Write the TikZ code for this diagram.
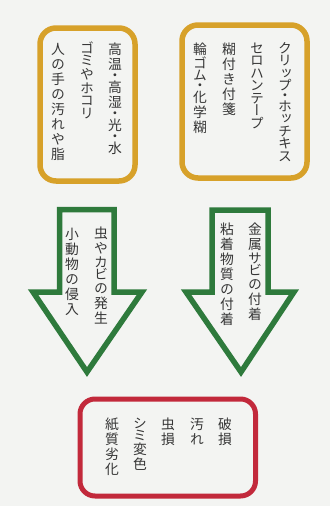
\documentclass[tikz,border=0pt]{standalone}
\usepackage{fontspec}
\newfontfamily\jp[RawFeature=+vert]{Noto Sans CJK JP}
\definecolor{bg}{HTML}{F3F4F2}
\definecolor{ybox}{HTML}{D7A12A}
\definecolor{garrow}{HTML}{2E7A3C}
\definecolor{rbox}{HTML}{C2293B}
\definecolor{ink}{HTML}{363636}
\newcommand\cjkslot[2]{\hbox to 15pt{\hss\vbox to #1{\vss\hbox{\vrule height .88em depth .12em width 0pt\relax #2}\vss}\hss}}
\ExplSyntaxOn
\tl_const:Nn \c_kata_tl {アイウエオカキクケコサシスセソタチツテトナニヌネノハヒフヘホマミムメモヤユヨラリルレロワヲンガギグゲゴザジズゼゾダヂヅデドバビブベボパピプペポァィゥェォッャュョー}
\NewDocumentCommand \tate { m }
 {
  \vbox:n
   {
    \offinterlineskip
    \tl_map_inline:nn {#1}
     {
      \str_if_eq:nnTF {##1} {・}
       { \cjkslot{8pt}{##1} }
       {
        \tl_if_in:NnTF \c_kata_tl {##1}
         { \cjkslot{12.5pt}{##1} }
         { \cjkslot{15pt}{##1} }
       }
     }
   }
 }
\ExplSyntaxOff
\begin{document}
\begin{tikzpicture}[x=1pt,y=-1pt,
  col/.style={anchor=north,inner sep=0pt,text=ink,font=\jp\fontsize{13.8pt}{15pt}\selectfont},
  ybox/.style={draw=ybox,line width=5.5pt,rounded corners=16pt},
  rbox/.style={draw=rbox,line width=5pt,rounded corners=15pt},
  garrow/.style={draw=garrow,line width=5.5pt,line join=miter,fill=bg}]
\fill[bg] (0,0) rectangle (330,506);
\useasboundingbox (0,0) rectangle (330,506);
% top boxes
\draw[ybox] (40,28) rectangle (135,181);
\draw[ybox] (182,25) rectangle (307,178);
\node[col] (a1) at (115,41.5) {\tate{高温・高湿・光・水}};
\node[col] (a2) at (87,41.5) {\tate{ゴミやホコリ}};
\node[col] (a3) at (58,41.5) {\tate{人の手の汚れや脂}};
\node[col] (b1) at (285,41.5) {\tate{クリップ・ホッチキス}};
\node[col] (b2) at (257,41.5) {\tate{セロハンテープ}};
\node[col] (b3) at (229,41.5) {\tate{糊付き付箋}};
\node[col] (b4) at (200,41.5) {\tate{輪ゴム・化学糊}};
% arrows
\draw[garrow] (59.5,209.5) -- (114,209.5) -- (114,292) -- (142,292) -- (87,372) -- (33,292) -- (59.5,292) -- cycle;
\draw[garrow] (212,210) -- (268,210) -- (268,292) -- (294,292) -- (241,372) -- (186,292) -- (212,292) -- cycle;
\node[col] (c1) at (101,225.5) {\tate{虫やカビの発生}};
\node[col] (c2) at (72,226.5) {\tate{小動物の侵入}};
\node[col] (d1) at (255,221.5) {\tate{金属サビの付着}};
\node[col] (d2) at (227,221.5) {\tate{粘着物質の付着}};
% bottom box
\draw[rbox] (80,399) rectangle (255.5,496);
\node[col] (e1) at (225,416.5) {\tate{破損}};
\node[col] (e2) at (197,416.5) {\tate{汚れ}};
\node[col] (e3) at (168,416.5) {\tate{虫損}};
\node[col] (e4) at (140,416.5) {\tate{シミ変色}};
\node[col] (e5) at (112,416.5) {\tate{紙質劣化}};
\end{tikzpicture}
\end{document}
